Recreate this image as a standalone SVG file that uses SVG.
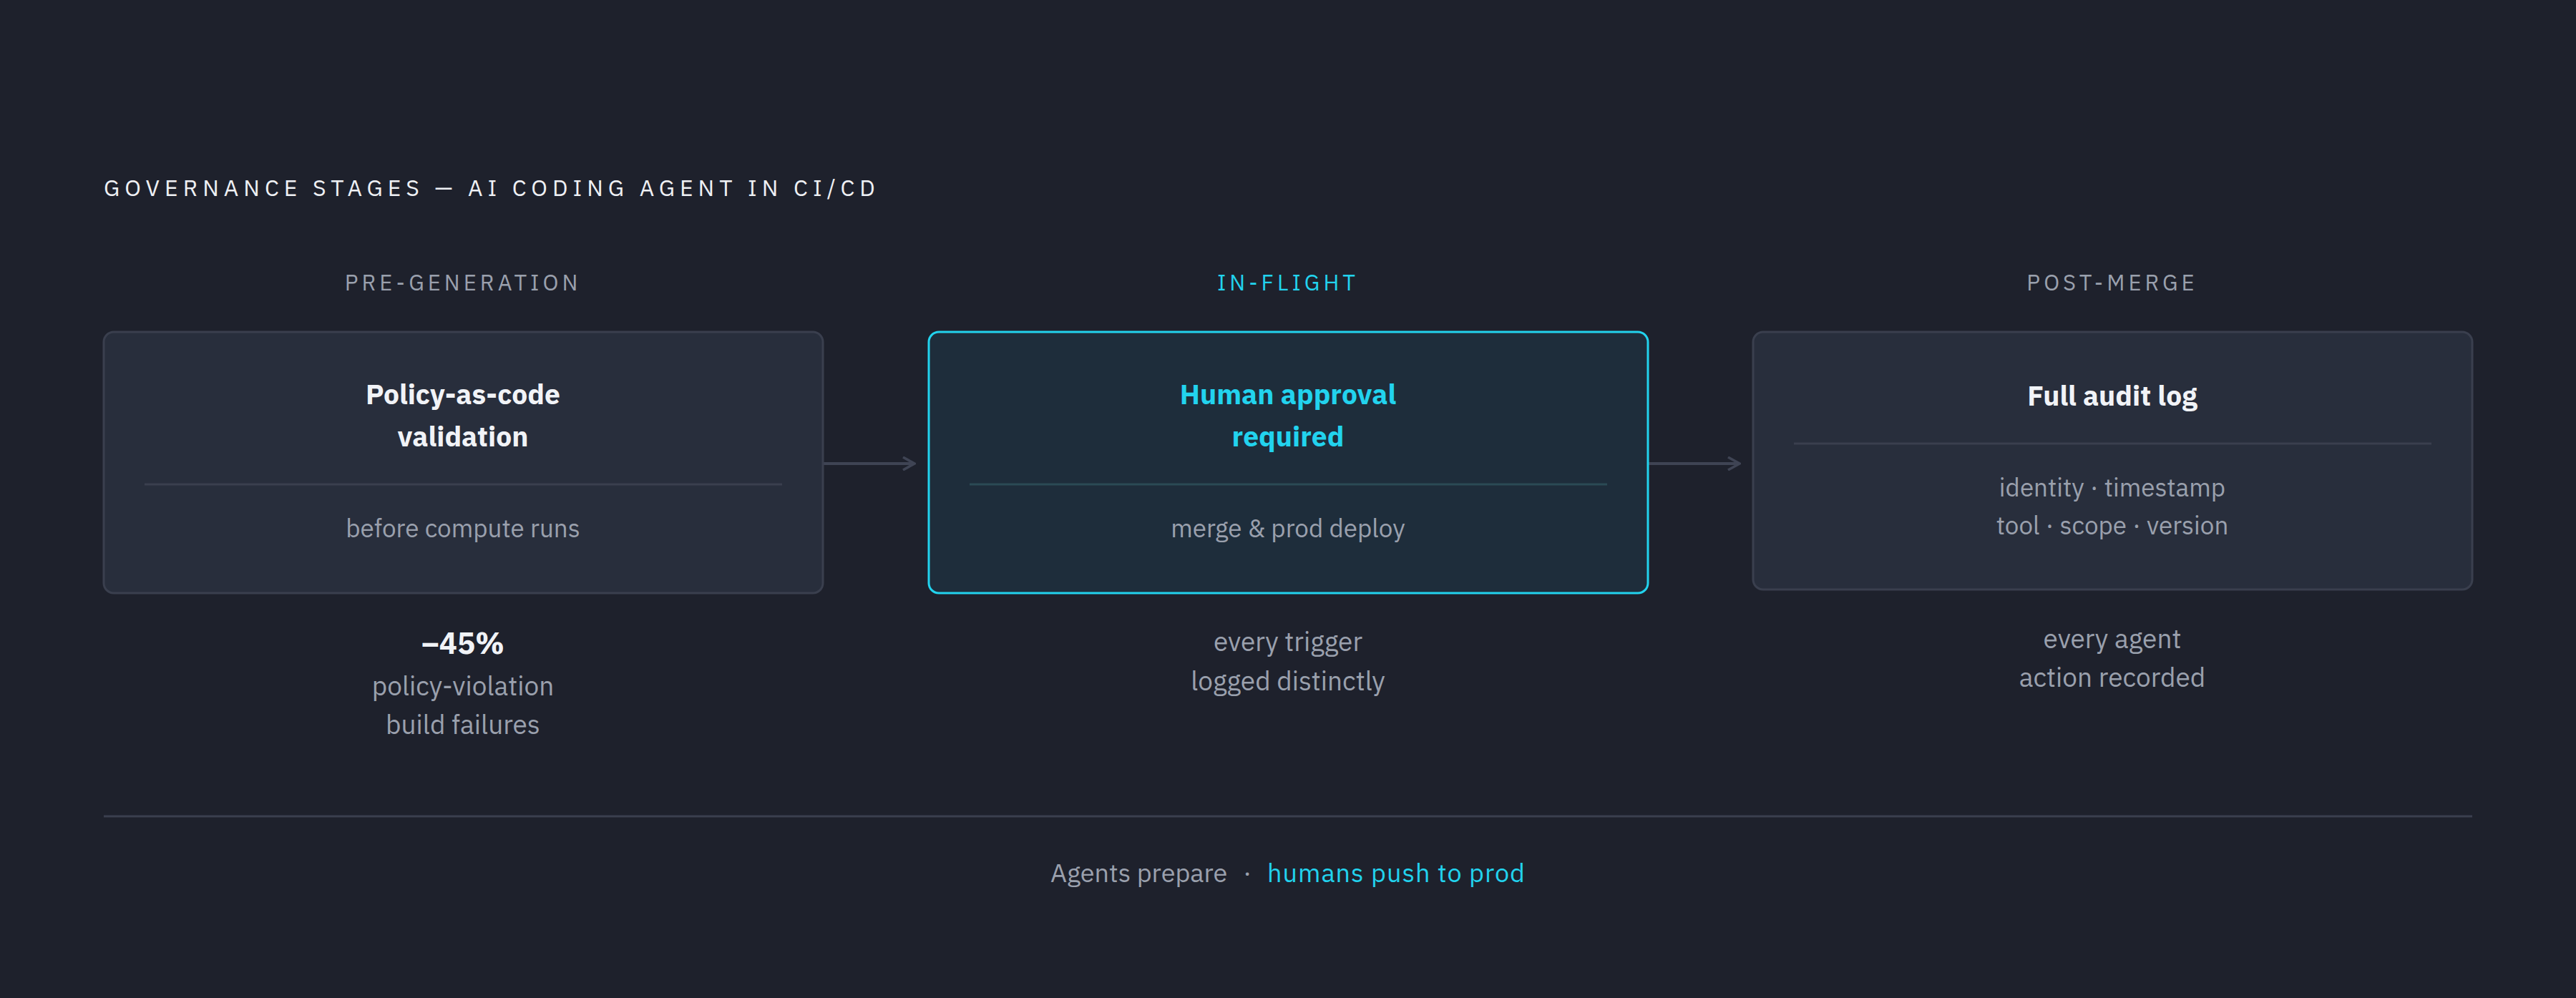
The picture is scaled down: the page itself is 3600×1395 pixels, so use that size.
<svg xmlns="http://www.w3.org/2000/svg" width="3600" height="1395" viewBox="0 0 3600 1395">
<style>
text{font-family:"IBM Plex Sans","Noto Sans","Liberation Sans",sans-serif;text-anchor:middle}
.box{fill:#282e3c;stroke:#3a3f4e;stroke-width:3}
.hl{fill:#1e2d3b;stroke:#22d3ee;stroke-width:3}
.div{stroke:#3a3f4e;stroke-width:3}
.t{font-size:39px;font-weight:700;fill:#f1f3f7}
.tc{font-size:39px;font-weight:700;fill:#22d3ee}
.s{font-size:35px;fill:#9aa0ad}
.st{font-size:31px;letter-spacing:5px;fill:#9aa0ad}
.m{font-size:37px;fill:#9aa0ad}
.conn{stroke:#3f4454;stroke-width:4;fill:none}
</style>
<defs><marker id="ar" viewBox="0 0 20 20" refX="18" refY="10" markerWidth="20" markerHeight="20" markerUnits="userSpaceOnUse" orient="auto"><path d="M2 1 L18 10 L2 19" fill="none" stroke="#3f4454" stroke-width="3.5"/></marker></defs>
<rect width="3600" height="1395" fill="#1e212c"/>
<text x="145" y="274" style="text-anchor:start;font-size:32px;letter-spacing:7px;fill:#eef0f4">GOVERNANCE STAGES — AI CODING AGENT IN CI/CD</text>
<g id="connectors">
<path class="conn" d="M1150 648 H1278" marker-end="url(#ar)"/>
<path class="conn" d="M2303 648 H2431" marker-end="url(#ar)"/>
</g>
<g id="pre">
<text class="st" x="647" y="406">PRE-GENERATION</text>
<rect class="box" x="145" y="464" width="1005" height="365" rx="14"/>
<text class="t" x="647" y="565">Policy-as-code</text>
<text class="t" x="647" y="624">validation</text>
<line class="div" x1="202" y1="677" x2="1093" y2="677"/>
<text class="s" x="647" y="751">before compute runs</text>
<text x="647" y="914" style="font-size:42px;font-weight:700;fill:#f1f3f7">–45%</text>
<text class="m" x="647" y="972">policy-violation</text>
<text class="m" x="647" y="1026">build failures</text>
</g>
<g id="inflight">
<text class="st" x="1800" y="406" style="fill:#22d3ee">IN-FLIGHT</text>
<rect class="hl" x="1298" y="464" width="1005" height="365" rx="14"/>
<text class="tc" x="1800" y="565">Human approval</text>
<text class="tc" x="1800" y="624">required</text>
<line x1="1355" y1="677" x2="2246" y2="677" stroke="#2b4a55" stroke-width="3"/>
<text class="s" x="1800" y="751">merge &amp; prod deploy</text>
<text class="m" x="1800" y="910">every trigger</text>
<text class="m" x="1800" y="965">logged distinctly</text>
</g>
<g id="post">
<text class="st" x="2952" y="406">POST-MERGE</text>
<rect class="box" x="2450" y="464" width="1005" height="360" rx="14"/>
<text class="t" x="2952" y="567">Full audit log</text>
<line class="div" x1="2507" y1="620" x2="3398" y2="620"/>
<text class="s" x="2952" y="694">identity · timestamp</text>
<text class="s" x="2952" y="747">tool · scope · version</text>
<text class="m" x="2952" y="906">every agent</text>
<text class="m" x="2952" y="960">action recorded</text>
</g>
<line x1="145" y1="1141" x2="3455" y2="1141" stroke="#3a3f4e" stroke-width="3"/>
<text x="1800" y="1233" style="font-size:36px;fill:#9aa0ad"><tspan>Agents prepare</tspan><tspan dx="22">·</tspan><tspan dx="22" fill="#22d3ee" style="letter-spacing:1px">humans push to prod</tspan></text>
</svg>
